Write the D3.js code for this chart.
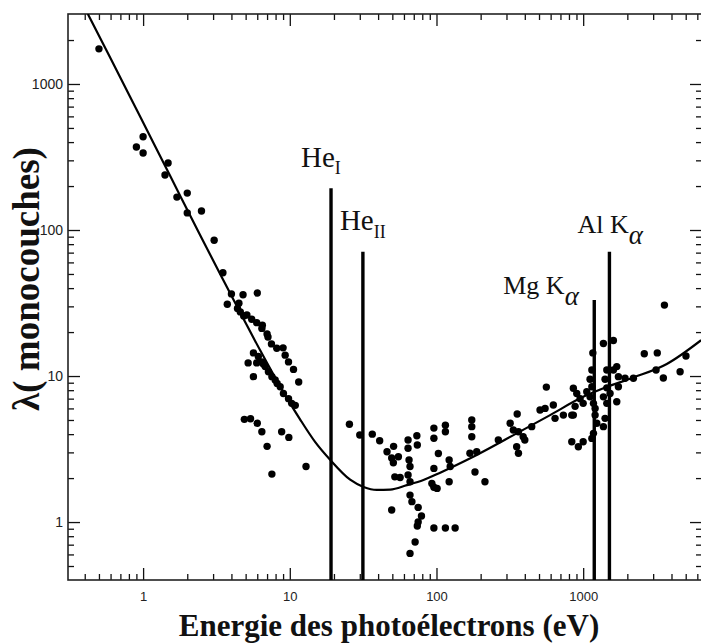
<!DOCTYPE html>
<html><head><meta charset="utf-8">
<script src="https://cdn.jsdelivr.net/npm/d3@7"></script>
<style>body{margin:0;background:#fff} svg{display:block}</style>
</head><body><svg id="c" width="701" height="643"></svg>
<script>
// ---- data ----
const scatterEnergy = [0.5,1.0,0.9,1.0,1.48,1.41,1.7,2.0,2.0,2.5,3.05,3.5,4.0,4.8,6.0,3.75,4.5,4.4,
 4.6,4.85,5.1,5.5,5.95,6.45,7.0,7.5,8.15,9.0,9.3,9.8,10.6,11.5,6.5,7.1,
 5.65,6.1,5.95,6.45,6.8,7.15,7.55,7.95,8.6,9.05,9.8,10.3,10.9,6.6,8.2,
 5.2,5.65,4.9,5.4,6.0,6.45,7.0,8.8,9.85,7.55,12.9,
 25.5,30,36.5,41,46,51,49.5,55,50.8,64,73.5,74,64,65,66,52,56.5,64,66,66,68,75,79,75,74,49.5,96,115,134,71.5,66,
 96,115,115,96,103,96,96,101,93,122,122,124,174,174,174,169,188,183,214,
 264,318,355,334,362,390,400,352,362,446,508,550,626,561,643,733,836,836,927,1000,857,904,953,1000,881,857,1058,1114,
 1164,1146,1114,1146,1175,1206,1206,1238,1175,1146,
 1374,1607,1449,1607,1410,1449,1374,1449,1525,1410,1374,1694,1738,1738,1694,1930,2200,
 2610,3200,3140,3520,4580,5020,3580];
const scatterLambda = [1740,435,370,337,288,238,168,179,131,135,85,51,36.5,36,37,31,31.5,29,
 27.5,25.8,26.2,24.5,23.2,21.2,19.4,16.6,15.5,15.6,13.9,12.5,11.1,9.1,22.3,18.5,
 14.4,13.6,12.3,12.5,11.6,10.7,9.9,9.4,8.45,7.6,7.0,6.5,6.3,12.1,8.9,
 12.3,9.9,5.05,5.1,4.75,4.15,3.3,4.15,3.8,2.13,2.4,
 4.67,3.95,4.0,3.6,3.03,3.3,2.75,2.8,2.55,3.65,3.9,3.37,3.2,2.66,2.4,2.04,2.02,2.1,1.89,1.53,1.38,1.26,1.1,1.0,0.94,1.21,0.91,0.91,0.91,0.73,0.61,
 4.4,4.6,4.15,3.75,2.95,2.33,1.73,1.7,1.84,1.89,2.66,2.4,5.0,4.5,3.84,2.96,3.03,2.2,1.89,
 3.65,4.75,5.5,4.27,4.15,3.84,3.65,3.28,2.96,4.5,5.85,6.0,6.33,8.4,5.13,5.4,5.4,3.55,3.28,3.55,8.24,7.6,7.0,6.5,6.2,5.4,7.8,7.2,
 14.4,11,9.5,8.45,6.5,6.0,5.4,4.75,4.05,3.74,
 16.7,17.5,11,11,9.5,8.3,7.2,6.5,7.6,5.13,4.5,11.6,9.9,8.45,6.67,9.65,9.65,
 14.2,14.4,11,9.7,10.7,13.7,30.6];
const curveEnergy = [0.42,0.596,0.954,1.528,2.45,3.35,4.81,6.28,8.59,11.75,14.87,18.83,25.8,31.8,39.2,48.3,62.8,81.5,106,137,188,352,595,1000,1374,2200,3715,6365];
const curveLambda = [3015,1521,598,235,92,50.0,24.9,15.0,8.5,5.05,3.54,2.67,1.95,1.74,1.66,1.67,1.79,1.94,2.18,2.46,2.88,4.05,5.4,7.2,8.24,9.77,12.1,17.6];
const sourceNames = ["He","He","Mg K","Al K"];
const sourceSubs = ["I","II","\u03b1","\u03b1"];
const sourceEnergy = [19.1,31.5,1190,1510];
const sourceTop = [193,71,33.2,71];
const xMajorTicks = [1,10,100,1000];
const xTickLabels = ["1","10","100","1000"];
const yMajorTicks = [1,10,100,1000];
const yTickLabels = ["1","10","100","1000"];
const xTitle = "Energie des photoélectrons (eV)";
const yTitle = "\u03bb( monocouches)";

// ---- layout ----
const svg = d3.select("#c");
const L = 68, R = 702, T = 14, B = 580;
const x = d3.scaleLog().domain([0.3076, 6457]).range([L, R]);
const y = d3.scaleLog().domain([0.401, 3015]).range([B, T]);
const serif = "'Liberation Serif','Times New Roman',serif";
const sans = "'Liberation Sans',Arial,sans-serif";

const minorX = x.ticks().filter(v => !xMajorTicks.includes(v) && x(v) > L + 2 && x(v) < R - 2);
const minorY = y.ticks().filter(v => !yMajorTicks.includes(v) && y(v) < B - 2 && y(v) > T + 2);

function styleAxis(g) {
  g.select(".domain").remove();
  g.selectAll(".tick line").attr("stroke", "#111").attr("stroke-width", 1.3);
  g.selectAll("text").attr("fill", "#222").attr("font-family", sans);
}
// bottom
svg.append("g").attr("transform", `translate(0,${B})`)
  .call(d3.axisBottom(x).tickValues(xMajorTicks).tickFormat((d,i)=>xTickLabels[i]).tickSizeInner(-12).tickSizeOuter(0).tickPadding(12))
  .call(styleAxis).selectAll("text").attr("font-size", 13);
svg.append("g").attr("transform", `translate(0,${B})`)
  .call(d3.axisBottom(x).tickValues(minorX).tickFormat("").tickSizeInner(-6).tickSizeOuter(0)).call(styleAxis);
// top
svg.append("g").attr("transform", `translate(0,${T})`)
  .call(d3.axisTop(x).tickValues(xMajorTicks).tickFormat("").tickSizeInner(-12).tickSizeOuter(0)).call(styleAxis);
svg.append("g").attr("transform", `translate(0,${T})`)
  .call(d3.axisTop(x).tickValues(minorX).tickFormat("").tickSizeInner(-6).tickSizeOuter(0)).call(styleAxis);
// left
svg.append("g").attr("transform", `translate(${L},0)`)
  .call(d3.axisLeft(y).tickValues(yMajorTicks).tickFormat((d,i)=>yTickLabels[i]).tickSizeInner(-12).tickSizeOuter(0).tickPadding(5))
  .call(styleAxis).selectAll("text").attr("font-size", 14);
svg.append("g").attr("transform", `translate(${L},0)`)
  .call(d3.axisLeft(y).tickValues(minorY).tickFormat("").tickSizeInner(-6).tickSizeOuter(0)).call(styleAxis);
// right
svg.append("g").attr("transform", `translate(${R},0)`)
  .call(d3.axisRight(y).tickValues(yMajorTicks).tickFormat("").tickSizeInner(-12).tickSizeOuter(0)).call(styleAxis);
svg.append("g").attr("transform", `translate(${R},0)`)
  .call(d3.axisRight(y).tickValues(minorY).tickFormat("").tickSizeInner(-6).tickSizeOuter(0)).call(styleAxis);

// frame
svg.append("rect").attr("x", L).attr("y", T).attr("width", R - L).attr("height", B - T)
  .attr("fill", "none").attr("stroke", "#222").attr("stroke-width", 1.6);

// clip
svg.append("clipPath").attr("id", "clip").append("rect")
  .attr("x", L).attr("y", T).attr("width", R - L).attr("height", B - T);

// curve
const curveData = curveEnergy.map((e, i) => ({e, l: curveLambda[i]}));
svg.append("path").attr("clip-path", "url(#clip)")
  .datum(curveData)
  .attr("d", d3.line().x(d => x(d.e)).y(d => y(d.l)).curve(d3.curveMonotoneX))
  .attr("fill", "none").attr("stroke", "#000").attr("stroke-width", 2.2);

// scatter
const dots = scatterEnergy.map((e, i) => ({e, l: scatterLambda[i]}));
svg.append("g").attr("clip-path", "url(#clip)").selectAll("circle").data(dots).join("circle")
  .attr("cx", d => x(d.e)).attr("cy", d => y(d.l)).attr("r", 3.7).attr("fill", "#000");

// source lines
const sources = sourceEnergy.map((e, i) => ({e, top: sourceTop[i], name: sourceNames[i], sub: sourceSubs[i]}));
svg.append("g").selectAll("line").data(sources).join("line")
  .attr("x1", d => x(d.e)).attr("x2", d => x(d.e))
  .attr("y1", d => y(d.top)).attr("y2", B)
  .attr("stroke", "#000").attr("stroke-width", 3.4);

// source labels
const labelOff = [{dx:-30, dy:-21, fs:29, sfs:18, sdy:7, it:false},
                  {dx:-23, dy:-22, fs:29, sfs:18, sdy:8, it:false},
                  {dx:-91, dy:-6, fs:26, sfs:27, sdy:11, it:true},
                  {dx:-32, dy:-19, fs:26, sfs:27, sdy:11, it:true}];
sources.forEach((s, i) => {
  const o = labelOff[i];
  const t = svg.append("text").attr("x", x(s.e) + o.dx).attr("y", y(s.top) + o.dy)
    .attr("font-family", serif).attr("font-size", o.fs).attr("fill", "#111");
  t.append("tspan").text(s.name);
  t.append("tspan").attr("dy", o.sdy).attr("font-size", o.sfs)
    .attr("font-style", o.it ? "italic" : "normal").text(s.sub);
});

// titles
svg.append("text").attr("x", 389).attr("y", 636).attr("text-anchor", "middle")
  .attr("font-family", serif).attr("font-weight", "bold").attr("font-size", 31).attr("fill", "#111")
  .text(xTitle);
svg.append("text").attr("transform", "translate(39,279) rotate(-90)").attr("text-anchor", "middle")
  .attr("font-family", serif).attr("font-weight", "bold").attr("font-size", 37).attr("fill", "#111")
  .text(yTitle);
</script></body></html>
